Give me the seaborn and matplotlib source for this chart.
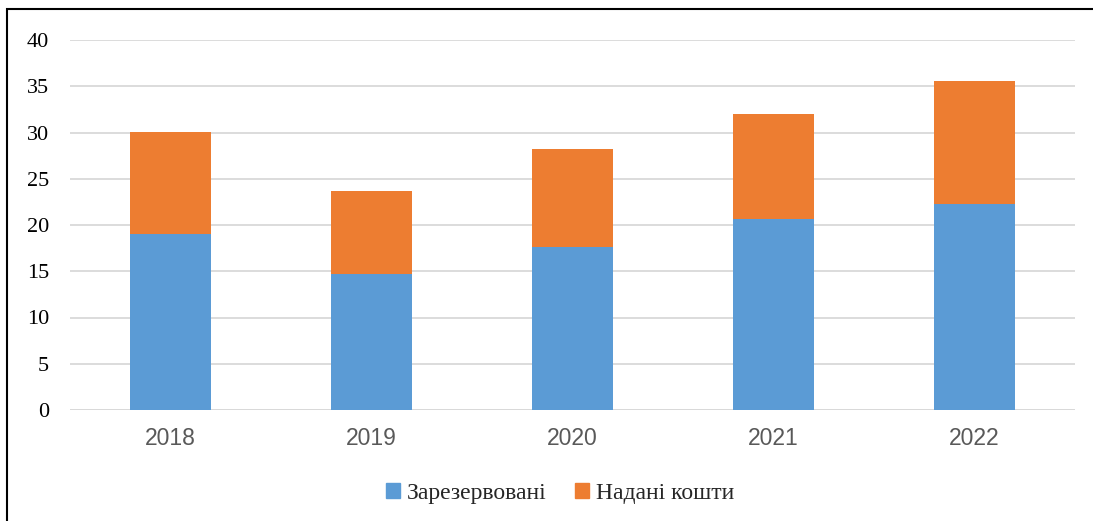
import numpy as np
import pandas as pd
import matplotlib
matplotlib.use("Agg")
import matplotlib.pyplot as plt
import seaborn as sns
from matplotlib.patches import Patch, Rectangle

years = ["2018", "2019", "2020", "2021", "2022"]
reserved = [19.0, 14.7, 17.6, 20.6, 22.3]
granted = [11.1, 9.0, 10.6, 11.4, 13.3]

df = pd.DataFrame({"year": years, "reserved": reserved, "granted": granted})
df["total"] = df["reserved"] + df["granted"]

blue = "#5b9bd5"
orange = "#ed7d31"

sns.set_style("white")
fig = plt.figure(figsize=(10.93, 5.21), dpi=100)
ax = fig.add_axes([70 / 1093, 1 - 410 / 521, 1005 / 1093, 370 / 521])

# stacked: total in orange first, then the reserved part over it
sns.barplot(data=df, x="year", y="total", color=orange, width=0.4,
            saturation=1, linewidth=0, ax=ax, zorder=2)
sns.barplot(data=df, x="year", y="reserved", color=blue, width=0.4,
            saturation=1, linewidth=0, ax=ax, zorder=3)

ax.set_xlim(-0.5, 4.5)
ax.set_ylim(0, 40)
ax.set_yticks(np.arange(0, 41, 5))
ax.yaxis.grid(True, color="#d9d9d9", linewidth=1.3, zorder=0)
ax.set_axisbelow(True)
for s in ax.spines.values():
    s.set_visible(False)
ax.axhline(0, color="#d9d9d9", linewidth=1.3, zorder=1)
ax.set_xlabel("")
ax.set_ylabel("")
ax.tick_params(axis="both", length=0)
ax.tick_params(axis="y", pad=15)
ax.tick_params(axis="x", pad=12)
for t in ax.get_yticklabels():
    t.set_fontfamily("Liberation Serif")
    t.set_fontsize(16)
    t.set_color("black")
for t in ax.get_xticklabels():
    t.set_fontfamily("Liberation Sans")
    t.set_fontsize(16.5)
    t.set_color("#595959")

handles = [Patch(color=blue, label="Зарезервовані"),
           Patch(color=orange, label="Надані кошти")]
fig.legend(handles=handles, loc="center", bbox_to_anchor=(560 / 1093, 1 - 493 / 521),
           ncol=2, frameon=False, prop={"family": "Liberation Serif", "size": 17},
           handlelength=0.6, handleheight=0.6, handletextpad=0.3, columnspacing=1.2)

fig.patches.append(Rectangle((7 / 1093, -0.1), 1.2, 1.1 - 9 / 521, transform=fig.transFigure,
                             fill=False, edgecolor="black", linewidth=1.5))

fig.savefig("out.png", dpi=100)
